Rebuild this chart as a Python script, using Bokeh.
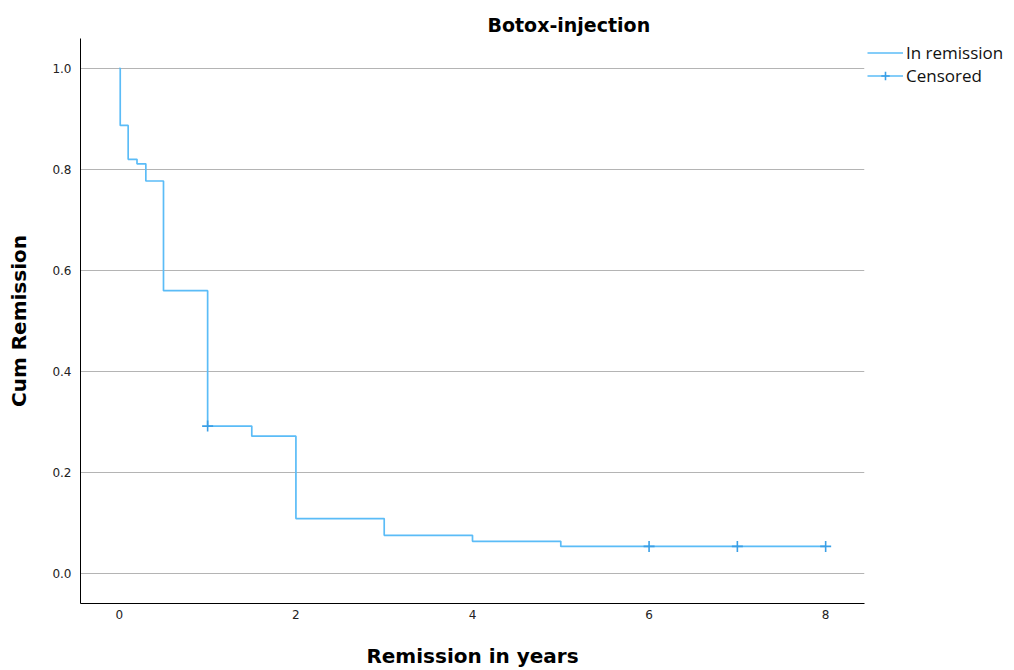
from bokeh.plotting import figure
from bokeh.models import Legend, LegendItem, FixedTicker, CustomJSTickFormatter
from bokeh.embed import file_html
from bokeh.resources import INLINE

# Kaplan-Meier step data
event_times = [0.0, 0.01, 0.1, 0.2, 0.3, 0.5, 1.0, 1.5, 2.0, 3.0, 4.0, 5.0, 8.0]
cum_remission = [1.0, 0.887, 0.820, 0.811, 0.777, 0.560, 0.292, 0.272, 0.109, 0.076, 0.064, 0.054, 0.054]
censor_times = [1.0, 6.0, 7.0, 8.0]
censor_values = [0.292, 0.054, 0.054, 0.054]
x_ticks = [0, 2, 4, 6, 8]
y_ticks = [0.0, 0.2, 0.4, 0.6, 0.8, 1.0]

LINE = "#5bbcf7"
CROSS = "#3a9fe6"

p = figure(frame_width=784, frame_height=565, output_backend="svg", toolbar_location=None,
           x_range=(-0.44, 8.44), y_range=(-0.059, 1.059),
           min_border_left=80, min_border_right=0, min_border_top=38, min_border_bottom=67)

p.title.text = "Botox-injection"
p.title.text_font = "DejaVu Sans"
p.title.text_font_size = "19px"
p.title.text_font_style = "bold"
p.title.text_color = "black"
p.title.align = "left"
p.title.offset = 407
p.title.standoff = 5

p.outline_line_color = None
p.xgrid.grid_line_color = None
p.ygrid.grid_line_color = "#b4b4b4"
p.ygrid.grid_line_width = 1
p.ygrid.ticker = FixedTicker(ticks=y_ticks)

p.xaxis.ticker = FixedTicker(ticks=x_ticks)
p.yaxis.ticker = FixedTicker(ticks=y_ticks)
for ax in (p.xaxis[0], p.yaxis[0]):
    ax.axis_line_color = "black"
    ax.axis_line_width = 1
    ax.major_tick_line_color = None
    ax.minor_tick_line_color = None
    ax.major_tick_out = 0
    ax.major_tick_in = 0
    ax.minor_tick_out = 0
    ax.major_label_text_font = "DejaVu Sans"
    ax.major_label_text_font_size = "12px"
    ax.major_label_text_color = "#222222"
    ax.axis_label_text_font = "DejaVu Sans"
    ax.axis_label_text_font_style = "bold"
    ax.axis_label_text_font_size = "20px"
    ax.axis_label_text_color = "black"

p.xaxis.axis_label = "Remission in years"
p.xaxis.major_label_standoff = 6
p.xaxis.axis_label_standoff = 22
p.yaxis.axis_label = "Cum Remission"
p.yaxis.major_label_standoff = 9
p.yaxis.axis_label_standoff = 18
p.yaxis.formatter = CustomJSTickFormatter(code="return tick.toFixed(1);")

step_r = p.step(event_times, cum_remission, mode="after", line_color=LINE, line_width=1.7)
cens_r = p.scatter(censor_times, censor_values, marker="cross", size=11,
                   line_color=CROSS, line_width=1.6)

legend = Legend(items=[LegendItem(label="In remission", renderers=[step_r]),
                       LegendItem(label="Censored", renderers=[step_r, cens_r])],
                location="top_left", margin=3, padding=0, spacing=0,
                glyph_width=36, glyph_height=21, label_standoff=3,
                label_text_font="Open Sans", label_text_font_size="17px",
                label_text_color="#111111",
                border_line_color=None, background_fill_alpha=0)
p.add_layout(legend, "right")

open("out.html", "w").write(file_html(p, INLINE))
